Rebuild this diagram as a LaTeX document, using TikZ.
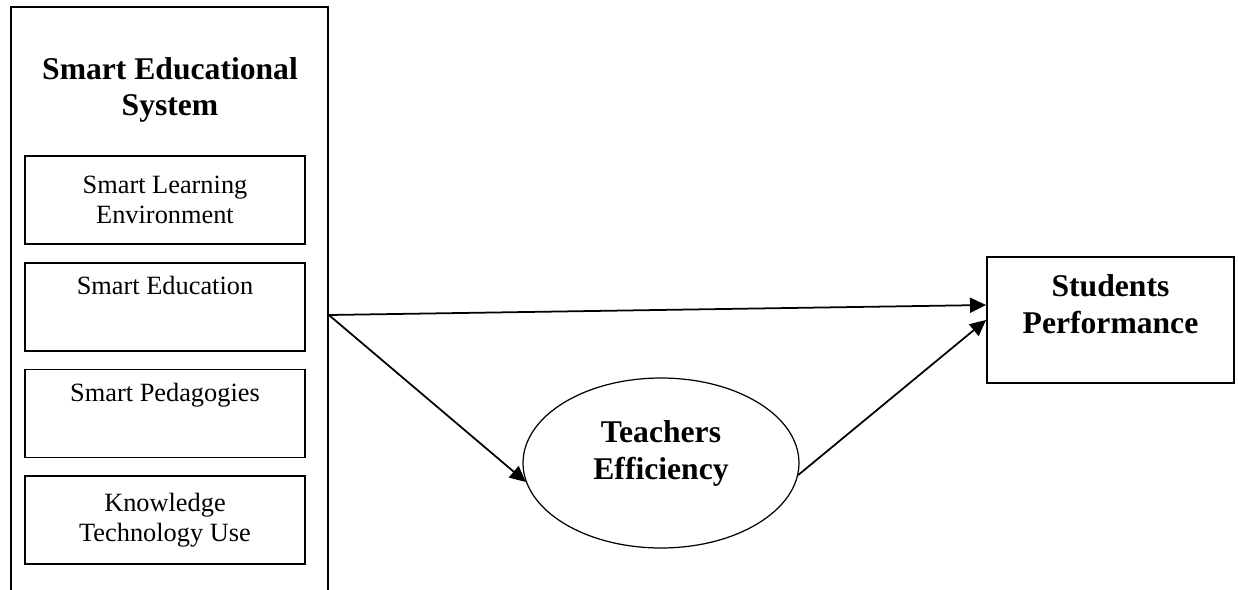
\documentclass[tikz,border=0pt]{standalone}
\usepackage{fontspec}
\setmainfont{Liberation Serif}
\usetikzlibrary{positioning, arrows.meta, shapes.geometric, calc}

\begin{document}
\begin{tikzpicture}[
        x=0.02cm, y=-0.02cm,
        >={Triangle[length=0.32cm, width=0.3cm]},
        node distance=0.34cm,
        sysblock/.style={
            draw,
            line width=1.1pt,
            minimum width=6.34cm,
            minimum height=13cm,
            anchor=north west,
            inner sep=0pt
        },
        titletext/.style={
            align=center,
            font=\fontsize{18}{20.5}\selectfont\bfseries
        },
        dimblock/.style={
            draw,
            line width=1pt,
            minimum width=5.6cm,
            minimum height=1.76cm,
            align=center,
            font=\fontsize{15}{17}\selectfont
        },
        topblock/.style={
            dimblock,
            text depth=24pt
        },
        effblock/.style={
            ellipse,
            draw,
            line width=0.7pt,
            minimum width=5.52cm,
            minimum height=3.4cm,
            align=center,
            text depth=15pt,
            font=\fontsize{18}{21}\selectfont\bfseries
        },
        perfblock/.style={
            draw,
            line width=1.1pt,
            minimum width=4.94cm,
            minimum height=2.52cm,
            align=center,
            text depth=18pt,
            font=\fontsize{18}{21}\selectfont\bfseries
        },
        arr/.style={->, line width=1pt}
    ]

    \useasboundingbox (0,0) rectangle (1238,589);
    \clip (0,0) rectangle (1238,589);

    \node[sysblock] (system) at (10,6) {};
    \node[titletext] (title) at (170,90) {Smart Educational\\System};

    \node[dimblock] (sle) at (165,200) {Smart Learning\\Environment};
    \node[topblock, below=of sle] (sed) {Smart Education};
    \node[topblock, below=of sed] (sped) {Smart Pedagogies};
    \node[dimblock, below=of sped] (ktu) {Knowledge\\Technology Use};

    \node[effblock] (teff) at (661,463) {Teachers\\Efficiency};
    \node[perfblock] (sperf) at (1110.5,320) {Students\\Performance};

    \coordinate (split) at ($(system.north east)+(0,309)$);

    \draw[arr] (split) -- ($(sperf.west)+(0,-15)$);
    \draw[arr] (split) -- (teff.188);
    \draw[arr] (teff.-5) -- (sperf.west);

\end{tikzpicture}
\end{document}
